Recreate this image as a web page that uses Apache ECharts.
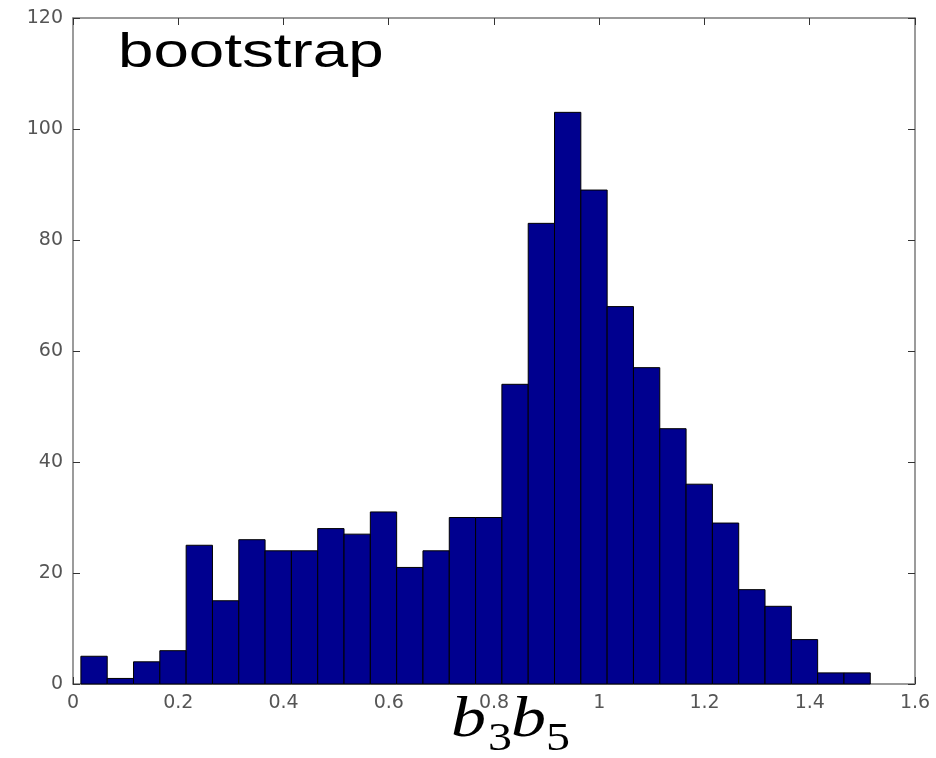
<!DOCTYPE html>
<html>
<head>
<meta charset="utf-8">
<style>
  html, body { margin: 0; padding: 0; background: #fff; }
  #main { width: 936px; height: 758px; }
</style>
<script src="https://cdn.jsdelivr.net/npm/echarts@6/dist/echarts.min.js"></script>
</head>
<body>
<div id="main"></div>
<script>
  // histogram bins (centres) and counts
  var binCenters = [0.04, 0.09, 0.14, 0.19, 0.24, 0.29, 0.34, 0.39, 0.44, 0.49,
                    0.54, 0.59, 0.64, 0.69, 0.74, 0.79, 0.84, 0.89, 0.94, 0.99,
                    1.04, 1.09, 1.14, 1.19, 1.24, 1.29, 1.34, 1.39, 1.44, 1.49];
  var counts = [5, 1, 4, 6, 25, 15, 26, 24, 24, 28,
                27, 31, 21, 24, 30, 30, 54, 83, 103, 89,
                68, 57, 46, 36, 29, 17, 14, 8, 2, 2];
  var binWidth = 0.05;
  var xRange = [0, 1.6], xStep = 0.2;
  var yRange = [0, 120], yStep = 20;

  var title = 'bootstrap';

  var barData = binCenters.map(function (c, i) {
    return [c - binWidth / 2, c + binWidth / 2, counts[i]];
  });

  var frameColor = '#7a7a7a';
  var labelStyle = { color: '#555', fontSize: 19, fontFamily: 'DejaVu Sans' };

  function axisCommon(showLabel) {
    return {
      axisLine: { show: true, onZero: false, lineStyle: { color: frameColor, width: 1.5 } },
      axisTick: { show: true, inside: true, length: 7, lineStyle: { color: '#333', width: 1 } },
      axisLabel: Object.assign({ show: showLabel, margin: 10 }, labelStyle),
      splitLine: { show: false }
    };
  }

  var myChart = echarts.init(document.getElementById('main'));

  var option = {
    animation: false,
    backgroundColor: '#fff',
    grid: { left: 73, right: 21, top: 18, bottom: 74 },
    xAxis: [
      Object.assign({ type: 'value', min: xRange[0], max: xRange[1], interval: xStep, position: 'bottom' }, axisCommon(true)),
      Object.assign({ type: 'value', min: xRange[0], max: xRange[1], interval: xStep, position: 'top' }, axisCommon(false))
    ],
    yAxis: [
      Object.assign({ type: 'value', min: yRange[0], max: yRange[1], interval: yStep, position: 'left' }, axisCommon(true)),
      Object.assign({ type: 'value', min: yRange[0], max: yRange[1], interval: yStep, position: 'right' }, axisCommon(false))
    ],
    series: [{
      type: 'custom',
      xAxisIndex: 0,
      yAxisIndex: 0,
      data: barData,
      renderItem: function (params, api) {
        var p0 = api.coord([api.value(0), 0]);
        var p1 = api.coord([api.value(1), api.value(2)]);
        return {
          type: 'rect',
          shape: { x: p0[0], y: p1[1], width: p1[0] - p0[0], height: p0[1] - p1[1] },
          style: { fill: '#00008f', stroke: '#000', lineWidth: 1 }
        };
      }
    }],
    graphic: [
      {
        type: 'text',
        left: 118,
        top: 29,
        scaleX: 1.3,
        z: 10,
        style: { text: title, font: '49px "Liberation Sans"', fill: '#000' }
      },
      {
        type: 'group',
        left: 451,
        top: 693,
        z: 10,
        children: [
          { type: 'text', x: 0, y: 0, scaleX: 1.25, style: { text: 'b', font: 'italic 56px "Liberation Serif"', fill: '#000' } },
          { type: 'text', x: 37, y: 26, scaleX: 1.2, style: { text: '3', font: '40px "Liberation Serif"', fill: '#000' } },
          { type: 'text', x: 60, y: 0, scaleX: 1.25, style: { text: 'b', font: 'italic 56px "Liberation Serif"', fill: '#000' } },
          { type: 'text', x: 95, y: 26, scaleX: 1.2, style: { text: '5', font: '40px "Liberation Serif"', fill: '#000' } }
        ]
      }
    ]
  };

  myChart.setOption(option);
</script>
</body>
</html>
